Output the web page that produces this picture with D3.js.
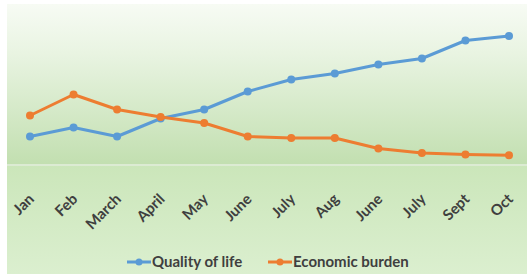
<!DOCTYPE html>
<html>
<head>
<meta charset="utf-8">
<script src="https://cdn.jsdelivr.net/npm/d3@7"></script>
<style>
  body { margin: 0; background: #fff; }
  text { font-family: Lato, "Open Sans", sans-serif; font-weight: 700; fill: #3f3f3f; }
</style>
</head>
<body>
<div id="chart"></div>
<script>
// month labels as they appear on the chart
var months = ["Jan", "Feb", "March", "April", "May", "June", "July", "Aug", "June", "July", "Sept", "Oct"];
var qualityOfLife = [19, 25, 19, 31, 37, 49, 57, 61, 67, 71, 83, 86];
var economicBurden = [33, 47, 37, 32, 28, 19, 18, 18, 11, 8, 7, 6.5];
var seriesNames = ["Quality of life", "Economic burden"];
var seriesColors = ["#5b9bd5", "#ed7d31"];

var width = 527, height = 274;

var svg = d3.select("#chart").append("svg")
    .attr("width", width)
    .attr("height", height);

var defs = svg.append("defs");
var plotGrad = defs.append("linearGradient")
    .attr("id", "plotGrad")
    .attr("x1", 0).attr("y1", 0).attr("x2", 0).attr("y2", 1);
plotGrad.append("stop").attr("offset", "0%").attr("stop-color", "#f7fbf4");
plotGrad.append("stop").attr("offset", "30%").attr("stop-color", "#e9f4e2");
plotGrad.append("stop").attr("offset", "100%").attr("stop-color", "#c2dfb0");

var lowGrad = defs.append("linearGradient")
    .attr("id", "lowGrad")
    .attr("x1", 0).attr("y1", 0).attr("x2", 0).attr("y2", 1);
lowGrad.append("stop").attr("offset", "0%").attr("stop-color", "#cbe6ba");
lowGrad.append("stop").attr("offset", "100%").attr("stop-color", "#dbefcf");

// background panels
svg.append("rect")
    .attr("x", 7).attr("y", 4)
    .attr("width", width - 7).attr("height", 161)
    .attr("fill", "url(#plotGrad)");
svg.append("rect")
    .attr("x", 7).attr("y", 165)
    .attr("width", width - 7).attr("height", height - 165)
    .attr("fill", "url(#lowGrad)");

var x = d3.scalePoint()
    .domain(d3.range(months.length))
    .range([30, 509]);

var y = d3.scaleLinear()
    .domain([0, 100])
    .range([165, 15]);

// axis line
svg.append("line")
    .attr("x1", 7).attr("x2", width)
    .attr("y1", 165).attr("y2", 165)
    .attr("stroke", "#dcebd3")
    .attr("stroke-width", 2);

// category labels, rotated
svg.append("g")
    .selectAll("text")
    .data(months)
    .enter().append("text")
    .attr("transform", function(d, i) {
        return "translate(" + (x(i) + 5) + ",200) rotate(-45)";
    })
    .attr("text-anchor", "end")
    .style("font-size", "15px")
    .text(function(d) { return d; });

var line = d3.line()
    .x(function(d, i) { return x(i); })
    .y(function(d) { return y(d); });

[qualityOfLife, economicBurden].forEach(function(values, k) {
    var g = svg.append("g");
    g.append("path")
        .datum(values)
        .attr("fill", "none")
        .attr("stroke", seriesColors[k])
        .attr("stroke-width", 3)
        .attr("stroke-linejoin", "round")
        .attr("d", line);
    g.selectAll("circle")
        .data(values)
        .enter().append("circle")
        .attr("cx", function(d, i) { return x(i); })
        .attr("cy", function(d) { return y(d); })
        .attr("r", 4)
        .attr("fill", seriesColors[k]);
});

// legend
var legendX = [127, 268];
var legend = svg.append("g")
    .selectAll("g")
    .data(seriesNames)
    .enter().append("g")
    .attr("transform", function(d, i) { return "translate(" + legendX[i] + ",262)"; });
legend.append("line")
    .attr("x1", 0).attr("x2", 24)
    .attr("stroke", function(d, i) { return seriesColors[i]; })
    .attr("stroke-width", 3);
legend.append("circle")
    .attr("cx", 12).attr("r", 3.5)
    .attr("fill", function(d, i) { return seriesColors[i]; });
legend.append("text")
    .attr("x", 25)
    .attr("y", 5)
    .style("font-size", "15px")
    .text(function(d) { return d; });
</script>
</body>
</html>
